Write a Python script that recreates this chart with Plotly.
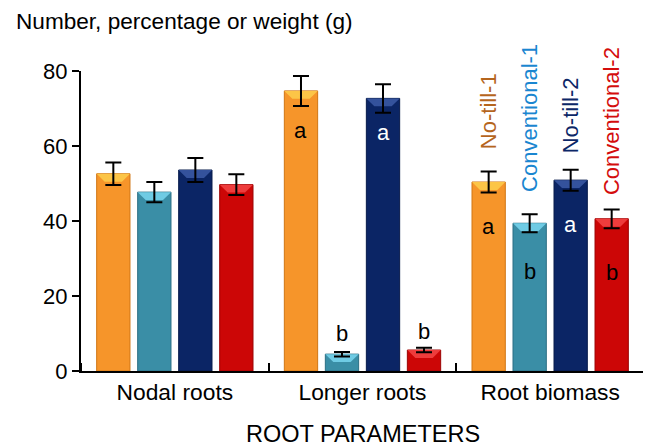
import plotly.graph_objects as go

# ---- data ----
categories = ["Nodal roots", "Longer roots", "Root biomass"]
series_names = ["No-till-1", "Conventional-1", "No-till-2", "Conventional-2"]
no_till_1 = [52.6, 74.7, 50.4]
conventional_1 = [47.7, 4.5, 39.4]
no_till_2 = [53.6, 72.7, 50.9]
conventional_2 = [49.7, 5.6, 40.6]
err_no_till_1 = [3.0, 4.0, 2.8]
err_conventional_1 = [2.7, 0.6, 2.4]
err_no_till_2 = [3.2, 3.8, 2.8]
err_conventional_2 = [2.8, 0.6, 2.5]
letters_no_till_1 = ["", "a", "a"]
letters_conventional_1 = ["", "b", "b"]
letters_no_till_2 = ["", "a", "a"]
letters_conventional_2 = ["", "b", "b"]
y_ticks = [0, 20, 40, 60, 80]
y_title = "Number, percentage or weight (g)"
x_title = "ROOT PARAMETERS"

# ---- styling ----
FONT = "Liberation Sans, Arial, Helvetica, sans-serif"
bar_colors = ["#F6952A", "#3A8EA6", "#0B2565", "#CC0606"]
line_colors = ["#D07614", "#2B6F84", "#061A4A", "#9C0404"]
bevel_colors = ["#FCC547", "#6FCBE4", "#34529C", "#EE3C3C"]
label_colors = ["#B5651D", "#1A86D0", "#0C2767", "#D40D0D"]
letter_colors = ["black", "black", "white", "black"]

values = [no_till_1, conventional_1, no_till_2, conventional_2]
errors = [err_no_till_1, err_conventional_1, err_no_till_2, err_conventional_2]
letters = [letters_no_till_1, letters_conventional_1, letters_no_till_2, letters_conventional_2]

# page body has an 8px margin in the browser; size the figure to fit the window
W, H = 643, 440
ML, MR, MT, MB = 73, 7, 63, 76.5
plot_h = H - MT - MB
plot_w = W - ML - MR
px_per_y = plot_h / 80.0
px_per_x = plot_w / 3.0

SLOT = 0.2185      # spacing between bars within a group (x units)
BAR_W = 0.1775     # bar width (x units)
BEVEL_H = 8 / px_per_y
BEVEL_IN = 8 / px_per_x

fig = go.Figure()
xs_all = []
for i, name in enumerate(series_names):
    xs = [c + (i - 1.5) * SLOT for c in range(len(categories))]
    xs_all.append(xs)
    fig.add_trace(go.Bar(
        x=xs, y=values[i], name=name, width=BAR_W,
        marker=dict(color=bar_colors[i], line=dict(color=line_colors[i], width=1)),
        hoverinfo="skip",
    ))

# bevel (light chamfer at top of each bar)
for i in range(4):
    bx, by = [], []
    for c in range(len(categories)):
        x0 = xs_all[i][c] - BAR_W / 2
        x1 = xs_all[i][c] + BAR_W / 2
        top = values[i][c]
        h = min(BEVEL_H, top * 0.5)
        bx += [x0, x1, x1 - BEVEL_IN, x0 + BEVEL_IN, x0, None]
        by += [top, top, top - h, top - h, top, None]
    fig.add_trace(go.Scatter(
        x=bx, y=by, mode="lines", fill="toself", fillcolor=bevel_colors[i],
        line=dict(width=0, color=bevel_colors[i]), hoverinfo="skip", showlegend=False,
    ))

# error bars
for i in range(4):
    fig.add_trace(go.Scatter(
        x=xs_all[i], y=values[i], mode="markers",
        marker=dict(size=1, color="rgba(0,0,0,0)"),
        error_y=dict(type="data", array=errors[i], color="black", thickness=2, width=8),
        hoverinfo="skip", showlegend=False,
    ))

annotations = []
letter_shift = {
    (0, 1): -40, (1, 1): 21, (2, 1): -34, (3, 1): 19,
    (0, 2): -44, (1, 2): -48, (2, 2): -44, (3, 2): -54,
}
for i in range(4):
    for c in range(3):
        t = letters[i][c]
        if not t:
            continue
        annotations.append(dict(
            x=xs_all[i][c], y=values[i][c], xref="x", yref="y",
            text=t, showarrow=False, xanchor="center", yanchor="middle",
            yshift=letter_shift[(i, c)],
            font=dict(family=FONT, size=22, color=letter_colors[i]),
        ))

label_shift = [20, 20, 14, 12]
for i, name in enumerate(series_names):
    annotations.append(dict(
        x=xs_all[i][2], y=values[i][2] + errors[i][2], xref="x", yref="y",
        text=name, textangle=-90, showarrow=False, xanchor="center", yanchor="bottom",
        yshift=label_shift[i],
        font=dict(family=FONT, size=22, color=label_colors[i]),
    ))

annotations.append(dict(
    x=0.5, y=0, xref="paper", yref="paper", text=x_title, showarrow=False,
    xanchor="center", yanchor="middle", yshift=-62.5, borderpad=0,
    font=dict(family=FONT, size=23.5, color="black"),
))

fig.update_layout(
    width=W, height=H,
    margin=dict(l=ML, r=MR, t=MT, b=MB),
    paper_bgcolor="white", plot_bgcolor="white",
    showlegend=False,
    barmode="overlay",
    font=dict(family=FONT, size=22, color="black"),
    title=dict(text=y_title, x=8 / W, xanchor="left", xref="container",
               y=1 - 13 / H, yanchor="middle", yref="container",
               font=dict(family=FONT, size=22.6, color="black")),
    annotations=annotations,
    xaxis=dict(
        range=[-0.5, 2.5], tickmode="array", tickvals=list(range(len(categories))),
        ticktext=categories, ticks="", showline=True, linecolor="black", linewidth=2,
        showgrid=False, zeroline=False, tickfont=dict(family=FONT, size=22.8, color="black"),
        minor=dict(tickmode="array", tickvals=[-0.5, 0.5, 1.5, 2.5], ticks="inside",
                   ticklen=8, tickwidth=2, tickcolor="black", showgrid=False),
    ),
    yaxis=dict(
        range=[0, 80], tickvals=y_ticks, showline=True, linecolor="black", linewidth=2,
        ticks="outside", ticklen=7, tickwidth=2, tickcolor="black",
        showgrid=False, zeroline=False, tickfont=dict(family=FONT, size=22, color="black"),
    ),
)

fig.write_html("out.html")
